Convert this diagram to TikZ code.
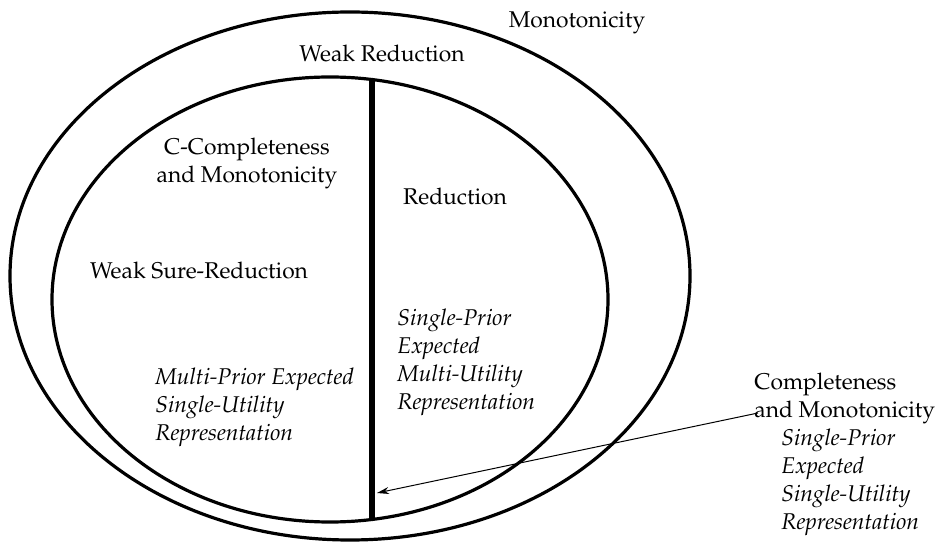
\documentclass[tikz,border=0pt]{standalone}
\usepackage[T1]{fontenc}
\usepackage{mathpazo}
\usetikzlibrary{arrows.meta}
\tikzset{
  ring/.style={line width=1.6pt},
  split/.style={line width=2.6pt},
  label/.style={inner sep=0pt, font=\fontsize{11.4}{14}\selectfont},
  rep/.style={label, align=left, anchor=west, font=\fontsize{11.4}{14}\selectfont\itshape},
}
\begin{document}
\begin{tikzpicture}[x=0.5pt, y=-0.5pt]
		%%%%% START %%%%%
		\useasboundingbox (0, 0) rectangle (935, 544);
		
		\draw[ring] (350, 276) ellipse [x radius=170pt, y radius=132pt];
		\draw[ring] (330, 299.5) ellipse [x radius=139pt, y radius=111.25pt];
		
		\coordinate (splittop) at (372, 79.6);
		\coordinate (splitbot) at (372, 519.4);
		\draw[split] (splittop) -- (splitbot);
		
		\node[label] (mono) at (577, 23) {Monotonicity};
		\node[label] (weakred) at (382, 54) {Weak Reduction};
		\node[label, align=center] (ccomp) at (247, 163) {C-Completeness\\and Monotonicity};
		\node[label] (red) at (455, 197) {Reduction};
		\node[label] (wsred) at (199, 270) {Weak Sure-Reduction};
		
		\node[rep] (spmu) at (397, 362) {Single-Prior\\Expected\\Multi-Utility\\Representation};
		\node[rep] (mpsu) at (155, 407) {Multi-Prior Expected\\Single-Utility\\Representation};
		
		\node[label, align=left, anchor=west] (comp) at (754, 398) {Completeness\\and Monotonicity};
		\node[rep] (spsu) at (781, 482) {Single-Prior\\Expected\\Single-Utility\\Representation};
		
		\coordinate (tail) at (758, 413);
		\coordinate (head) at (377, 493);
		\draw[line width=0.5pt, -{Stealth[length=6pt, width=3.5pt]}] (tail) -- (head);
		%%%%% END %%%%%
\end{tikzpicture}
\end{document}
